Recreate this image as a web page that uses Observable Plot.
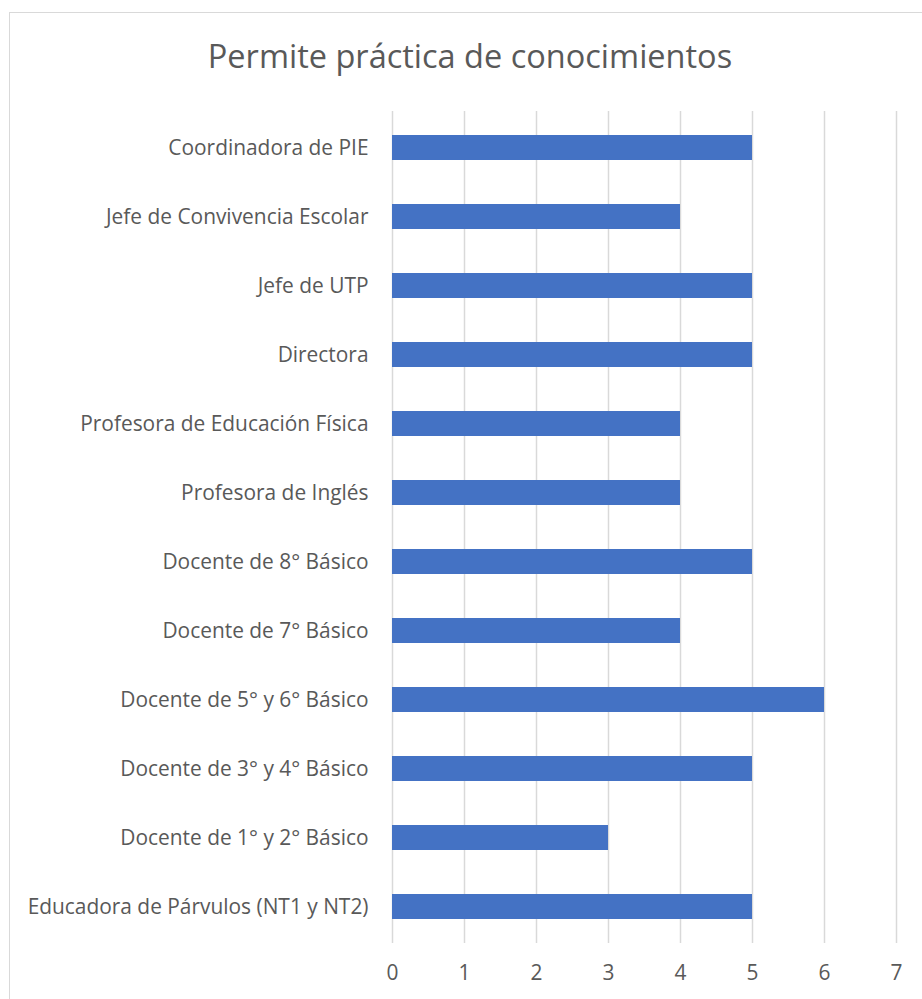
<!DOCTYPE html>
<html>
<head>
<meta charset="utf-8">
<script src="https://cdn.jsdelivr.net/npm/d3@7"></script>
<script src="https://cdn.jsdelivr.net/npm/@observablehq/plot@0.6"></script>
<style>
  html, body { margin: 0; padding: 0; background: #fff; width: 922px; height: 999px; overflow: hidden; }
  #frame { position: absolute; left: 9px; top: 12px; width: 930px; height: 1010px; border: 1px solid #d9d9d9; box-sizing: border-box; }
  #title { position: absolute; left: 0; width: 940px; top: 36px; text-align: center; font-family: "Open Sans", sans-serif; font-size: 32.5px; color: #595959; line-height: 40px; }
  #chart { position: absolute; left: 0; top: 0; }
</style>
</head>
<body>
<div id="frame"></div>
<div id="title">Permite práctica de conocimientos</div>
<div id="chart"></div>
<script>
const categories = [
  "Coordinadora de PIE",
  "Jefe de Convivencia Escolar",
  "Jefe de UTP",
  "Directora",
  "Profesora de Educación Física",
  "Profesora de Inglés",
  "Docente de 8° Básico",
  "Docente de 7° Básico",
  "Docente de 5° y 6° Básico",
  "Docente de 3° y 4° Básico",
  "Docente de 1° y 2° Básico",
  "Educadora de Párvulos (NT1 y NT2)"
];
const values = [5, 4, 5, 5, 4, 4, 5, 4, 6, 5, 3, 5];
const xTicks = [0, 1, 2, 3, 4, 5, 6, 7];

const data = categories.map((c, i) => ({category: c, value: values[i]}));

const chart = Plot.plot({
  width: 922,
  height: 999,
  marginLeft: 392,
  marginRight: 26,
  marginTop: 111,
  marginBottom: 56,
  style: {fontFamily: "'Open Sans', sans-serif", fontSize: "20.9px", color: "#595959", background: "transparent"},
  x: {domain: [0, 7], ticks: xTicks, label: null},
  y: {domain: categories, paddingInner: 0.64, paddingOuter: 0.32, label: null},
  marks: [
    Plot.ruleX(xTicks, {stroke: "#d9d9d9", strokeWidth: 1.5}),
    Plot.barX(data, {x: "value", y: "category", fill: "#4472C4"}),
    Plot.axisX({ticks: xTicks, tickFormat: d => String(d), tickSize: 0, tickPadding: 22, fontSize: 20.9, fill: "#595959", label: null}),
    Plot.axisY({tickSize: 0, tickPadding: 24, fontSize: 20.9, fill: "#595959", label: null})
  ]
});
document.getElementById("chart").appendChild(chart);
</script>
</body>
</html>
